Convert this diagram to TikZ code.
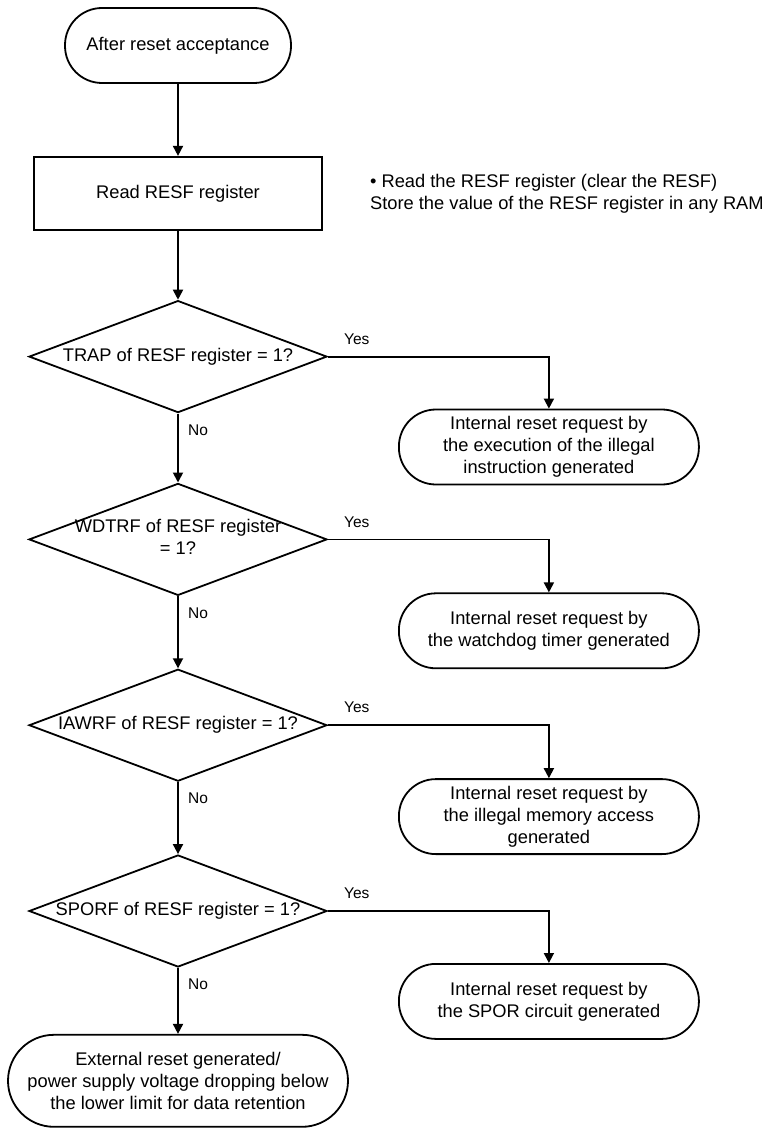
\documentclass[tikz,border=0pt]{standalone}
\usepackage{fontspec}
\setmainfont{Liberation Sans}
\usetikzlibrary{arrows.meta,positioning,shapes.geometric,calc}
\newcommand{\qtext}[1]{\makebox[0pt]{\begin{tabular}{@{}c@{}}#1\end{tabular}}}

\begin{document}
\begin{tikzpicture}[x=1pt, y=-1pt,
font=\fontsize{18.3}{22}\selectfont,
terminal/.style={draw, line width=1.8pt, rounded corners=37pt, align=center, minimum width=300pt, minimum height=75pt, inner sep=0pt},
process/.style={draw, line width=1.8pt, align=center, minimum width=288pt, minimum height=73pt},
decision/.style={draw, line width=1.8pt, diamond, aspect=2.66, minimum width=298pt, minimum height=112pt, inner sep=0pt},
note/.style={align=left, inner sep=0pt},
lbl/.style={font=\fontsize{15.5}{18}\selectfont, inner sep=0pt},
arrow/.style={-{Triangle[width=10pt,length=10pt]}, line width=1.8pt}
]
\useasboundingbox (0,0) rectangle (774,1129);
\node[terminal, minimum width=226pt] (start) at (178,45.5) {After reset acceptance};
\node[process, below=72pt of start] (read) {Read RESF register};
\node[note, right=47pt of read] (memo) {• Read the RESF register (clear the RESF)\\Store the value of the RESF register in any RAM};
\node[decision, below=69pt of read] (trap) {\qtext{TRAP of RESF register = 1?}};
\node[decision, below=69pt of trap] (wdt) {\qtext{WDTRF of RESF register\\= 1?}};
\node[decision, below=72pt of wdt] (iaw) {\qtext{IAWRF of RESF register = 1?}};
\node[decision, below=72pt of iaw] (spor) {\qtext{SPORF of RESF register = 1?}};
\node[terminal, minimum width=340pt, minimum height=92pt, rounded corners=46pt, below=66pt of spor] (ext) {External reset generated/\\power supply voltage dropping below\\the lower limit for data retention};
\node[terminal, anchor=north] (rtrap) at ([xshift=221pt,yshift=-52pt]trap.east) {Internal reset request by\\the execution of the illegal\\instruction generated};
\node[terminal, anchor=north] (rwdt) at ([xshift=221pt,yshift=-53pt]wdt.east) {Internal reset request by\\the watchdog timer generated};
\node[terminal, anchor=north] (riaw) at ([xshift=221pt,yshift=-53pt]iaw.east) {Internal reset request by\\the illegal memory access\\generated};
\node[terminal, anchor=north] (rspor) at ([xshift=221pt,yshift=-52pt]spor.east) {Internal reset request by\\the SPOR circuit generated};
% yes / no labels
\node[lbl, above right=12pt and 16pt of trap.east] (yes1) {Yes};
\node[lbl, above right=12pt and 16pt of wdt.east] (yes2) {Yes};
\node[lbl, above right=12pt and 16pt of iaw.east] (yes3) {Yes};
\node[lbl, above right=12pt and 16pt of spor.east] (yes4) {Yes};
\node[lbl, below right=11pt and 10pt of trap.south] (no1) {No};
\node[lbl, below right=11pt and 10pt of wdt.south] (no2) {No};
\node[lbl, below right=11pt and 10pt of iaw.south] (no3) {No};
\node[lbl, below right=11pt and 10pt of spor.south] (no4) {No};
\draw[arrow] (start) -- (read);
\draw[arrow] (read) -- (trap);
\draw[arrow] (trap) -- (wdt);
\draw[arrow] (wdt) -- (iaw);
\draw[arrow] (iaw) -- (spor);
\draw[arrow] (spor) -- (ext);
\draw[arrow] (trap.east) -| (rtrap.north);
\draw[arrow] (wdt.east) -| (rwdt.north);
\draw[arrow] (iaw.east) -| (riaw.north);
\draw[arrow] (spor.east) -| (rspor.north);
\end{tikzpicture}
\end{document}
